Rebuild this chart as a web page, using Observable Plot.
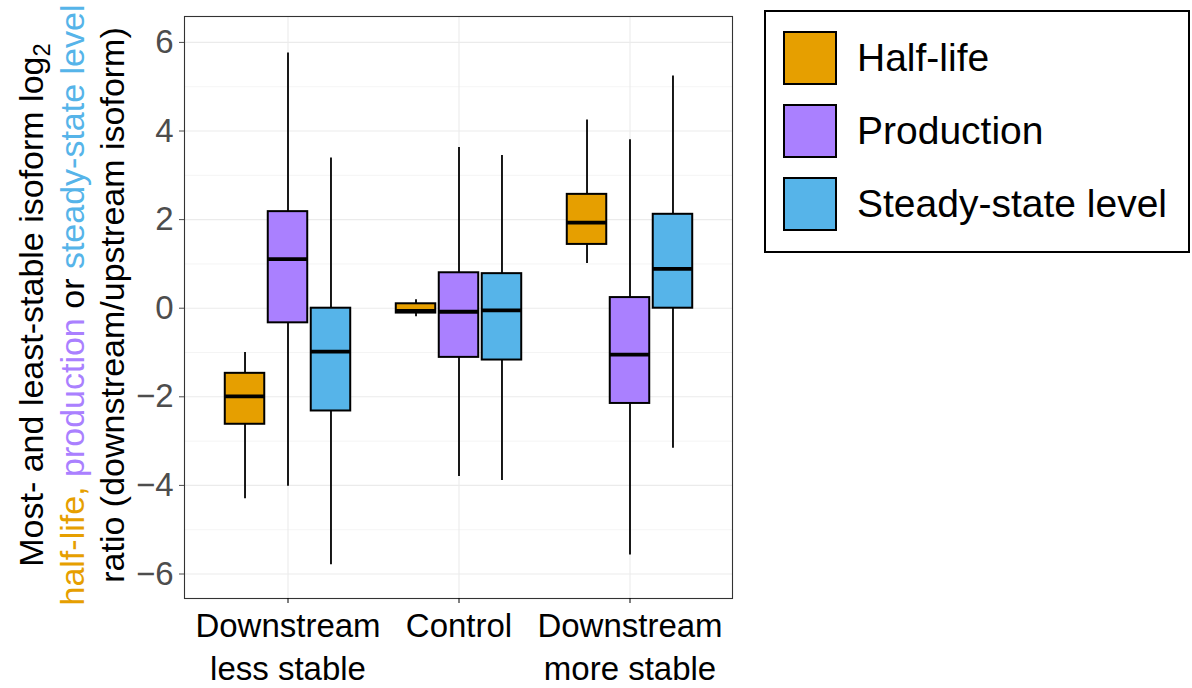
<!DOCTYPE html>
<html>
<head>
<meta charset="utf-8">
<script src="https://cdn.jsdelivr.net/npm/d3@7"></script>
<script src="https://cdn.jsdelivr.net/npm/@observablehq/plot@0.6"></script>
<style>
  html, body { margin: 0; padding: 0; background: white; }
  #wrap { position: relative; width: 1192px; height: 688px; font-family: "Liberation Sans", Arial, sans-serif; }
  #chart { position: absolute; left: 0; top: 0; }
  #legend { position: absolute; left: 764px; top: 10px; width: 422px; height: 239px; border: 2px solid #000; box-sizing: content-box; }
  .item { position: absolute; left: 17px; display: flex; align-items: center; }
  .key { width: 50px; height: 50px; border: 2px solid #000; }
  .lab { margin-left: 20px; font-size: 39px; color: #000; white-space: nowrap; }
</style>
</head>
<body>
<div id="wrap">
  <div id="chart"></div>
  <div id="legend"></div>
</div>
<script>
// ---- data ----
const categories = ["Downstream\nless stable", "Control", "Downstream\nmore stable"];
const series = ["Half-life", "Production", "Steady-state level"];
const colors = ["#E69F00", "#AA80FF", "#56B4E9"];
// rows: series (Half-life, Production, Steady-state level); columns: categories
const lower  = [[-4.30, -0.19,  1.01], [-4.02, -3.80, -5.57], [-5.79, -3.89, -3.16]];
const q1     = [[-2.62, -0.11,  1.44], [-0.33, -1.11, -2.15], [-2.32, -1.17,  0.00]];
const median = [[-1.99, -0.06,  1.93], [ 1.11, -0.08, -1.05], [-0.98, -0.05,  0.89]];
const q3     = [[-1.47,  0.10,  2.57], [ 2.18,  0.80,  0.24], [ 0.00,  0.78,  2.12]];
const upper  = [[-1.00,  0.19,  4.25], [ 5.76,  3.63,  3.80], [ 3.39,  3.45,  5.24]];
const majorTicks = [-6, -4, -2, 0, 2, 4, 6];
const minorTicks = [-5, -3, -1, 1, 3, 5];

// ---- layout ----
const W = 760, H = 688, mL = 184, mR = 28, mT = 16, mB = 90;
const outerPad = 0.1;
const step = (W - mL - mR) / (categories.length + 2 * outerPad);
const dodge = 0.251 * step;
const halfBox = 0.116 * step;
const inset = step / 2 - halfBox;

const rows = series.map((s, i) => categories.map((c, j) => ({
  series: s, category: c,
  lower: lower[i][j], q1: q1[i][j], median: median[i][j], q3: q3[i][j], upper: upper[i][j]
})));

const marks = [
  Plot.gridY({ticks: minorTicks, stroke: "#EBEBEB", strokeOpacity: 1, strokeWidth: 0.55}),
  Plot.gridY({ticks: majorTicks, stroke: "#EBEBEB", strokeOpacity: 1, strokeWidth: 1.1}),
  Plot.gridX({stroke: "#EBEBEB", strokeOpacity: 1, strokeWidth: 1.1}),
];
series.forEach((s, i) => {
  const dx = (i - 1) * dodge;
  marks.push(
    Plot.ruleX(rows[i], {x: "category", y1: "lower", y2: "upper", dx, stroke: "#000", strokeWidth: 1.8}),
    Plot.rectY(rows[i], {x: "category", y1: "q1", y2: "q3", dx, insetLeft: inset, insetRight: inset,
      fill: colors[i], stroke: "#000", strokeWidth: 2}),
    Plot.tickY(rows[i], {x: "category", y: "median", dx, insetLeft: inset, insetRight: inset,
      stroke: "#000", strokeWidth: 3.8})
  );
});
marks.push(
  Plot.frame({stroke: "#333333", strokeWidth: 1.1}),
  Plot.axisY({ticks: majorTicks, tickSize: 5, tickPadding: 6, fontSize: 33, color: "#4D4D4D", label: null}),
  Plot.axisX({tickSize: 5, tickPadding: 3, fontSize: 33, lineHeight: 1.3, color: "#000", label: null})
);

const chart = Plot.plot({
  width: W, height: H,
  marginLeft: mL, marginRight: mR, marginTop: mT, marginBottom: mB,
  style: {fontFamily: "Liberation Sans, Arial, sans-serif", background: "white", overflow: "visible"},
  x: {type: "band", domain: categories, paddingInner: 0, paddingOuter: outerPad, label: null},
  y: {domain: [-6.553, 6.585], label: null},
  marks
});
document.getElementById("chart").appendChild(chart);

// ---- y-axis title (three lines, rotated, coloured words) ----
const svg = d3.select(chart);
const cy = (mT + (H - mB)) / 2 - 2;
const fontT = 34;
const t1 = svg.append("text").attr("transform", `translate(43,${cy}) rotate(-90)`)
  .attr("text-anchor", "middle").attr("font-size", fontT).attr("fill", "#000");
t1.append("tspan").text("Most- and least-stable isoform log");
t1.append("tspan").attr("font-size", fontT * 0.7).attr("dy", "0.3em").text("2");
const t2 = svg.append("text").attr("transform", `translate(84,${cy}) rotate(-90)`)
  .attr("text-anchor", "middle").attr("font-size", fontT);
t2.append("tspan").attr("fill", colors[0]).text("half-life, ");
t2.append("tspan").attr("fill", colors[1]).text("production");
t2.append("tspan").attr("fill", "#000").text(" or ");
t2.append("tspan").attr("fill", colors[2]).text("steady-state level");
svg.append("text").attr("transform", `translate(124,${cy}) rotate(-90)`)
  .attr("text-anchor", "middle").attr("font-size", fontT).attr("fill", "#000")
  .text("ratio (downstream/upstream isoform)");

// ---- legend ----
const legend = document.getElementById("legend");
series.forEach((s, i) => {
  const item = document.createElement("div");
  item.className = "item";
  item.style.top = (19 + i * 73) + "px";
  const key = document.createElement("div");
  key.className = "key";
  key.style.background = colors[i];
  const lab = document.createElement("div");
  lab.className = "lab";
  lab.textContent = s;
  item.appendChild(key); item.appendChild(lab);
  legend.appendChild(item);
});
</script>
</body>
</html>
